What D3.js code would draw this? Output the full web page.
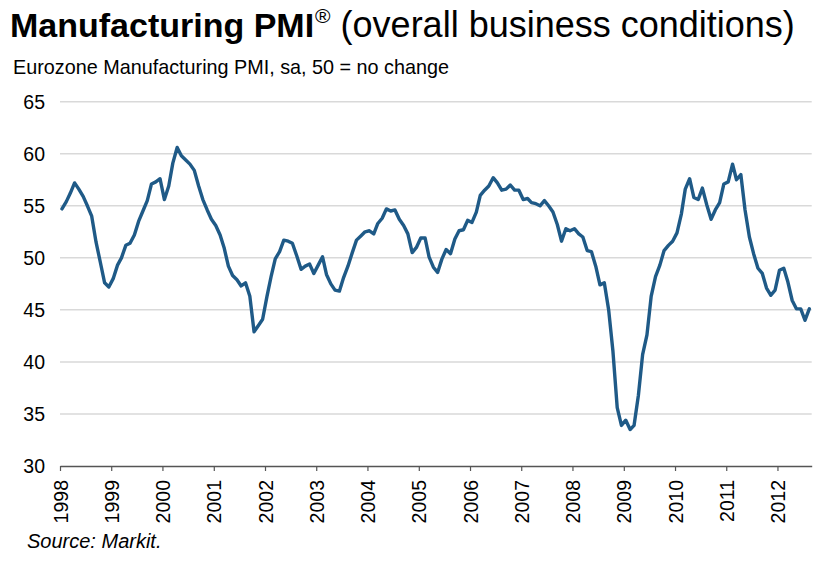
<!DOCTYPE html>
<html>
<head>
<meta charset="utf-8">
<script src="https://cdn.jsdelivr.net/npm/d3@7"></script>
<style>
  html, body { margin: 0; padding: 0; background: #fff; }
  svg { display: block; font-family: "Liberation Sans", Arial, Helvetica, sans-serif; }
</style>
</head>
<body>
<svg id="chart" width="831" height="563"></svg>
<script>
// ---- data ----
const startYear = 1998;
const startMonth = 0; // January
const pmi1998 = [54.7, 55.4, 56.2, 57.2, 56.6, 55.9, 55.0, 54.0, 51.5, 49.6, 47.6, 47.2];
const pmi1999 = [48.0, 49.3, 50.0, 51.2, 51.4, 52.2, 53.5, 54.5, 55.5, 57.1, 57.3, 57.6];
const pmi2000 = [55.6, 56.9, 59.1, 60.6, 59.8, 59.4, 59.0, 58.4, 56.9, 55.6, 54.6, 53.7];
const pmi2001 = [53.1, 52.2, 51.0, 49.2, 48.3, 47.9, 47.3, 47.6, 46.3, 42.9, 43.5, 44.1];
const pmi2002 = [46.3, 48.3, 49.9, 50.6, 51.7, 51.6, 51.4, 50.2, 48.9, 49.2, 49.4, 48.5];
const pmi2003 = [49.3, 50.1, 48.4, 47.5, 46.9, 46.8, 48.1, 49.2, 50.5, 51.7, 52.1, 52.5];
const pmi2004 = [52.6, 52.3, 53.3, 53.8, 54.7, 54.5, 54.6, 53.7, 53.1, 52.3, 50.5, 51.0];
const pmi2005 = [51.9, 51.9, 50.1, 49.1, 48.6, 49.9, 50.8, 50.4, 51.8, 52.6, 52.7, 53.6];
const pmi2006 = [53.4, 54.4, 56.0, 56.5, 56.9, 57.7, 57.2, 56.5, 56.6, 57.0, 56.5, 56.5];
const pmi2007 = [55.6, 55.7, 55.3, 55.2, 55.0, 55.5, 55.0, 54.4, 53.2, 51.6, 52.8, 52.6];
const pmi2008 = [52.8, 52.3, 52.0, 50.7, 50.6, 49.2, 47.4, 47.6, 45.0, 41.1, 35.6, 33.9];
const pmi2009 = [34.4, 33.5, 33.9, 36.8, 40.7, 42.6, 46.3, 48.2, 49.3, 50.7, 51.2, 51.6];
const pmi2010 = [52.4, 54.2, 56.6, 57.6, 55.8, 55.6, 56.7, 55.1, 53.7, 54.6, 55.3, 57.1];
const pmi2011 = [57.3, 59.0, 57.5, 58.0, 54.6, 52.0, 50.4, 49.0, 48.5, 47.1, 46.4, 46.9];
const pmi2012 = [48.8, 49.0, 47.7, 45.9, 45.1, 45.1, 44.0, 45.1];
const xTickYears = [1998, 1999, 2000, 2001, 2002, 2003, 2004, 2005, 2006, 2007, 2008, 2009, 2010, 2011, 2012];
const yTicks = [30, 35, 40, 45, 50, 55, 60, 65];
const titleBold = "Manufacturing PMI";
const titleMark = "®";
const titleRest = " (overall business conditions)";
const subtitle = "Eurozone Manufacturing PMI, sa, 50 = no change";
const source = "Source: Markit.";

const pmiValues = [].concat(pmi1998, pmi1999, pmi2000, pmi2001, pmi2002, pmi2003, pmi2004,
  pmi2005, pmi2006, pmi2007, pmi2008, pmi2009, pmi2010, pmi2011, pmi2012);
const series = pmiValues.map((v, i) => ({ date: new Date(startYear, startMonth + i, 15), value: v }));

// ---- layout ----
const svg = d3.select("#chart");
const plot = { left: 60, right: 811.7, top: 101.7, bottom: 466 };

const x = d3.scaleTime()
  .domain([new Date(1998, 0, 1), new Date(2012, 8, 1)])
  .range([plot.left, plot.right]);
const y = d3.scaleLinear().domain([30, 65]).range([plot.bottom, plot.top]);

// title
const title = svg.append("text").attr("x", 10).attr("y", 37).attr("fill", "#000");
title.append("tspan").style("font-weight", "bold").style("font-size", "34px").text(titleBold);
title.append("tspan").style("font-size", "21px").attr("dx", 1).attr("dy", -14).text(titleMark);
title.append("tspan").style("font-size", "36px").attr("dy", 14).text(titleRest);

svg.append("text").attr("x", 13).attr("y", 74).style("font-size", "19.8px").attr("fill", "#000").text(subtitle);

// gridlines
svg.append("g").selectAll("line").data(yTicks.filter(d => d > 30)).join("line")
  .attr("x1", plot.left).attr("x2", plot.right)
  .attr("y1", d => y(d)).attr("y2", d => y(d))
  .attr("stroke", "#d9d9d9").attr("stroke-width", 1.5);

// y labels
svg.append("g").selectAll("text").data(yTicks).join("text")
  .attr("x", 45).attr("y", d => y(d)).attr("dy", "0.36em")
  .attr("text-anchor", "end").style("font-size", "19.5px").attr("fill", "#000")
  .text(d => d);

// x axis
const xAxis = d3.axisBottom(x)
  .tickValues(xTickYears.map(yr => new Date(yr, 0, 1)))
  .tickFormat(d3.timeFormat("%Y"))
  .tickSize(5)
  .tickSizeOuter(0);
const gx = svg.append("g").attr("transform", `translate(0,${plot.bottom})`).call(xAxis);
gx.select(".domain").attr("stroke", "#555").attr("stroke-width", 1.5);
gx.selectAll(".tick line").attr("stroke", "#555").attr("stroke-width", 1.2);
gx.selectAll(".tick text")
  .attr("transform", "rotate(-90)")
  .attr("x", -14).attr("y", 0).attr("dy", "0.36em")
  .attr("text-anchor", "end")
  .style("font-size", "19.5px").style("font-family", "'Liberation Sans', Arial, sans-serif")
  .attr("fill", "#000");

// line
const line = d3.line().x(d => x(d.date)).y(d => y(d.value));
svg.append("path").datum(series)
  .attr("d", line).attr("fill", "none")
  .attr("stroke", "#1f5a87").attr("stroke-width", 3.4)
  .attr("stroke-linejoin", "round").attr("stroke-linecap", "round");

// source
svg.append("text").attr("x", 27).attr("y", 548).style("font-size", "20px").style("font-style", "italic")
  .attr("fill", "#000").text(source);
</script>
</body>
</html>
